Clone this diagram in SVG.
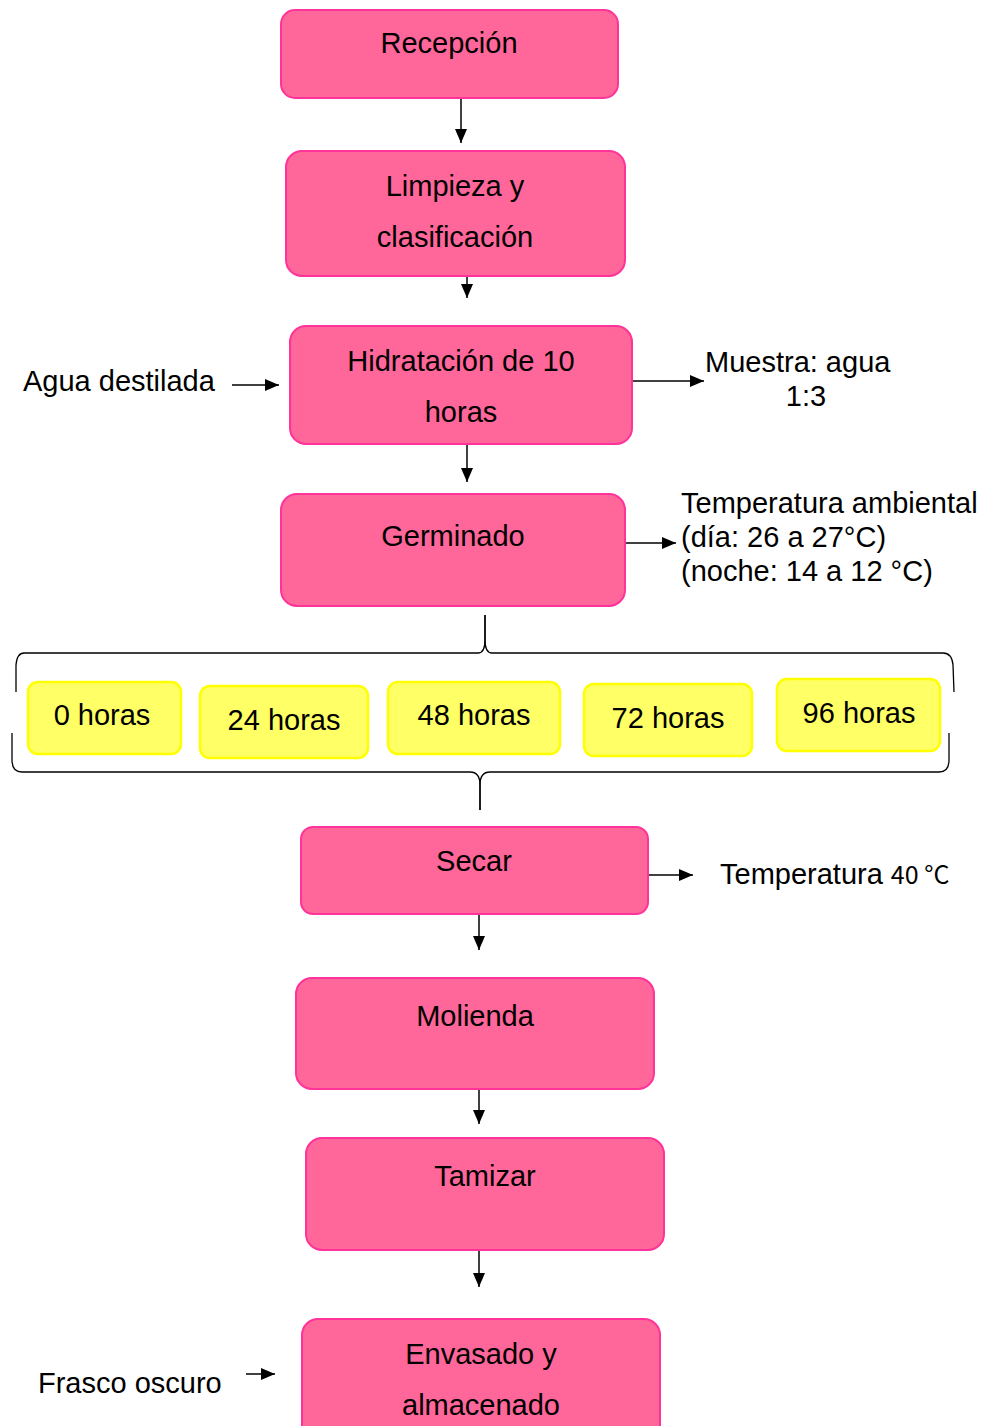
<svg xmlns="http://www.w3.org/2000/svg" width="989" height="1426" viewBox="0 0 989 1426">
<style>
.p{fill:#FF6699;stroke:#FF3399;stroke-width:2}
.y{fill:#FFFF66;stroke:#FFFF00;stroke-width:2.5}
text{font-family:"Liberation Sans",Arial,sans-serif;font-size:29px;fill:#000}
.c{text-anchor:middle}
.ln{stroke:#000;stroke-width:1.5;fill:none}
.br{stroke:#000;stroke-width:1.3;fill:none}
</style>
<defs>
<marker id="ah" markerWidth="14" markerHeight="12" refX="14" refY="6" orient="auto" markerUnits="userSpaceOnUse">
<path d="M0,0 L14,6 L0,12 Z" fill="#000"/>
</marker>
</defs>
<rect width="989" height="1426" fill="#fff"/>
<g id="connectors">
<line class="ln" x1="461" y1="98" x2="461" y2="143" marker-end="url(#ah)"/>
<line class="ln" x1="467" y1="276" x2="467" y2="298" marker-end="url(#ah)"/>
<line class="ln" x1="232" y1="385" x2="279" y2="385" marker-end="url(#ah)"/>
<line class="ln" x1="632" y1="381" x2="704" y2="381" marker-end="url(#ah)"/>
<line class="ln" x1="467" y1="444" x2="467" y2="482" marker-end="url(#ah)"/>
<line class="ln" x1="625" y1="543" x2="676" y2="543" marker-end="url(#ah)"/>
<line class="ln" x1="648" y1="875" x2="693" y2="875" marker-end="url(#ah)"/>
<line class="ln" x1="479" y1="914" x2="479" y2="950" marker-end="url(#ah)"/>
<line class="ln" x1="479" y1="1089" x2="479" y2="1124" marker-end="url(#ah)"/>
<line class="ln" x1="479" y1="1250" x2="479" y2="1287" marker-end="url(#ah)"/>
<line class="ln" x1="246" y1="1374" x2="275" y2="1374" marker-end="url(#ah)"/>
<path class="br" d="M485,615 L485,640 Q485,653 478,653 L24,653 Q17,653 16,665 L16,692"/>
<path class="br" d="M485,615 L485,640 Q485,653 492,653 L943,653 Q952,653 953,665 L954,692"/>
<path class="br" d="M12,733 L12,760 Q12,772 22,772 L470,772 Q480,772 480,785 L480,810"/>
<path class="br" d="M949,733 L949,760 Q949,772 939,772 L490,772 Q480,772 480,785 L480,810"/>
</g>
<g id="recepcion"><rect class="p" x="281" y="10" width="337" height="88" rx="14"/><text class="c" x="449" y="53">Recepción</text></g>
<g id="limpieza"><rect class="p" x="286" y="151" width="339" height="125" rx="16"/><text class="c" x="455" y="196">Limpieza y</text><text class="c" x="455" y="247">clasificación</text></g>
<g id="hidratacion"><rect class="p" x="290" y="326" width="342" height="118" rx="16"/><text class="c" x="461" y="371">Hidratación de 10</text><text class="c" x="461" y="422">horas</text></g>
<g id="agua"><text x="23" y="391">Agua destilada</text></g>
<g id="muestra"><text x="705" y="372">Muestra: agua</text><text class="c" x="806" y="406">1:3</text></g>
<g id="germinado"><rect class="p" x="281" y="494" width="344" height="112" rx="16"/><text class="c" x="453" y="546">Germinado</text></g>
<g id="tempamb"><text x="681" y="513">Temperatura ambiental</text><text x="681" y="547">(día: 26 a 27°C)</text><text x="681" y="581">(noche: 14 a 12 °C)</text></g>
<g id="h0"><rect class="y" x="28" y="682" width="153" height="72" rx="10"/><text class="c" x="102" y="725">0 horas</text></g>
<g id="h24"><rect class="y" x="200" y="686" width="168" height="72" rx="10"/><text class="c" x="284" y="730">24 horas</text></g>
<g id="h48"><rect class="y" x="388" y="682" width="172" height="72" rx="10"/><text class="c" x="474" y="725">48 horas</text></g>
<g id="h72"><rect class="y" x="584" y="684" width="168" height="72" rx="10"/><text class="c" x="668" y="728">72 horas</text></g>
<g id="h96"><rect class="y" x="777" y="679" width="163" height="72" rx="10"/><text class="c" x="859" y="723">96 horas</text></g>
<g id="secar"><rect class="p" x="301" y="827" width="347" height="87" rx="12"/><text class="c" x="474" y="871">Secar</text></g>
<g id="temp40"><text x="720" y="884">Temperatura <tspan font-size="25" font-family="'Noto Sans CJK SC','Noto Sans',sans-serif">40 °C</tspan></text></g>
<g id="molienda"><rect class="p" x="296" y="978" width="358" height="111" rx="16"/><text class="c" x="475" y="1026">Molienda</text></g>
<g id="tamizar"><rect class="p" x="306" y="1138" width="358" height="112" rx="16"/><text class="c" x="485" y="1186">Tamizar</text></g>
<g id="envasado"><rect class="p" x="302" y="1319" width="358" height="125" rx="16"/><text class="c" x="481" y="1364">Envasado y</text><text class="c" x="481" y="1415">almacenado</text></g>
<g id="frasco"><text x="38" y="1393">Frasco oscuro</text></g>
</svg>
